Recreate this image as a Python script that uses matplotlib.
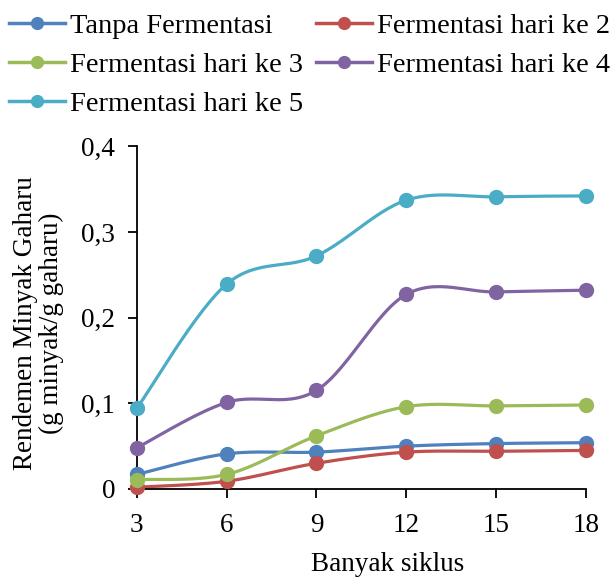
import numpy as np
import matplotlib
matplotlib.use("Agg")
import matplotlib.pyplot as plt
from matplotlib.lines import Line2D

plt.rcParams["font.family"] = "Liberation Serif"

# ------------------------------------------ data
siklus = [3, 6, 9, 12, 15, 18]
labels = ["Tanpa Fermentasi", "Fermentasi hari ke 2", "Fermentasi hari ke 3",
          "Fermentasi hari ke 4", "Fermentasi hari ke 5"]
tanpa = [0.017, 0.041, 0.043, 0.050, 0.053, 0.054]
hari2 = [0.002, 0.009, 0.030, 0.043, 0.044, 0.045]
hari3 = [0.011, 0.017, 0.062, 0.096, 0.097, 0.098]
hari4 = [0.048, 0.101, 0.115, 0.227, 0.230, 0.232]
hari5 = [0.094, 0.239, 0.272, 0.337, 0.341, 0.342]
series = [tanpa, hari2, hari3, hari4, hari5]
colors = ["#4F81BD", "#C0504D", "#9BBB59", "#8064A2", "#4BACC6"]


def smooth(x, y, n=30):
    # catmull-rom style smoothing (like spreadsheet "smoothed line")
    x = np.asarray(x, float); y = np.asarray(y, float)
    px = np.concatenate([[x[0]], x, [x[-1]]])
    py = np.concatenate([[y[0]], y, [y[-1]]])
    xs, ys = [], []
    t = np.linspace(0, 1, n)
    for i in range(1, len(px) - 2):
        p0 = np.array([px[i], py[i]])
        p3 = np.array([px[i + 1], py[i + 1]])
        c1 = p0 + (np.array([px[i + 1], py[i + 1]]) - np.array([px[i - 1], py[i - 1]])) / 6
        c2 = p3 - (np.array([px[i + 2], py[i + 2]]) - np.array([px[i], py[i]])) / 6
        b = ((1 - t) ** 3)[:, None] * p0 + (3 * (1 - t) ** 2 * t)[:, None] * c1 \
            + (3 * (1 - t) * t ** 2)[:, None] * c2 + (t ** 3)[:, None] * p3
        xs.extend(b[:, 0]); ys.extend(b[:, 1])
    return xs, ys


fig = plt.figure(figsize=(6.16, 5.78), dpi=100)
ax = fig.add_axes([0.222, 0.154, 0.729, 0.593])

handles = []
for y, c, lab in zip(series, colors, labels):
    sx, sy = smooth(siklus, y)
    ax.plot(sx, sy, color=c, lw=2.3, solid_capstyle="round", clip_on=False)
    ax.plot(siklus, y, "o", color=c, ms=10, clip_on=False, zorder=3)
    handles.append(Line2D([], [], color=c, lw=2.5, marker="o", ms=8.5, label=lab))

ax.set_xlim(3, 18)
ax.set_ylim(0, 0.4)
ax.set_xticks(siklus)
ax.set_yticks([0, 0.1, 0.2, 0.3, 0.4])
ax.set_yticklabels(["0", "0,1", "0,2", "0,3", "0,4"])
for s in ["top", "right"]:
    ax.spines[s].set_visible(False)
for s in ["left", "bottom"]:
    ax.spines[s].set_linewidth(1.3)
ax.tick_params(labelsize=19.5, length=6.5, width=1.3)
ax.tick_params(axis="x", pad=11)
ax.tick_params(axis="y", pad=9)

ax.set_xlabel("Banyak siklus", fontsize=19.5, va="top")
ax.xaxis.set_label_coords(0.559, -0.184)
ax.set_ylabel("Rendemen Minyak Gaharu\n(g minyak/g gaharu)", fontsize=19.5,
              linespacing=1.06, va="center")
ax.yaxis.set_label_coords(-0.219, 0.484)

# row-wise legend order: matplotlib fills columns first
order = [0, 2, 4, 1, 3]
fig.legend(handles=[handles[i] for i in order], ncol=2, loc="upper left",
           bbox_to_anchor=(0.0146, 0.978), frameon=False, fontsize=20.5,
           handlelength=1.95, handletextpad=0.18, columnspacing=0.47,
           labelspacing=0.46, borderpad=0, borderaxespad=0)

fig.savefig("out.png", dpi=100)
